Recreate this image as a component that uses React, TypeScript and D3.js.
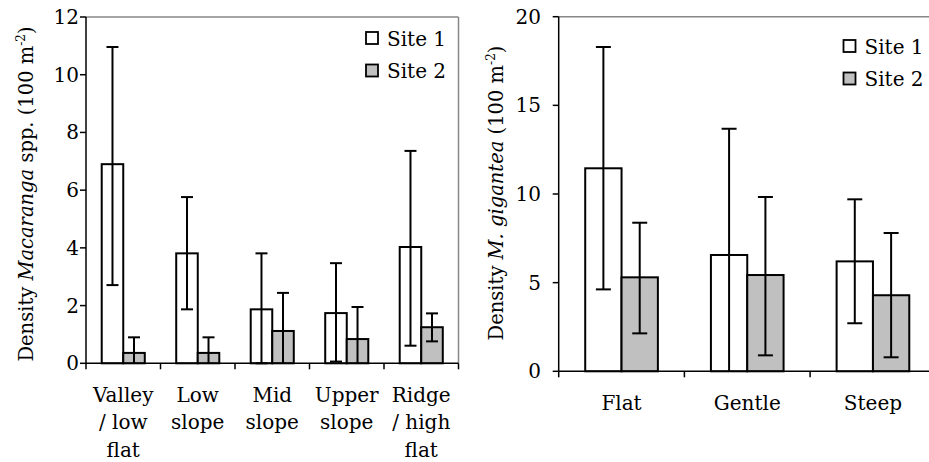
import React from 'react';
import * as d3 from 'd3';

// Series shared by both panels
const seriesNames = ['Site 1', 'Site 2'];

// Panel A: Macaranga spp. by topographic position
const positionLabels = [['Valley', '/ low', 'flat'], ['Low', 'slope'], ['Mid', 'slope'], ['Upper', 'slope'], ['Ridge', '/ high', 'flat']];
const positionSite1 = [6.9, 3.81, 1.87, 1.74, 4.03];
const positionSite1Low = [2.71, 1.87, 0.0, 0.06, 0.61];
const positionSite1High = [10.96, 5.76, 3.81, 3.47, 7.36];
const positionSite2 = [0.36, 0.36, 1.12, 0.84, 1.25];
const positionSite2Low = [-0.2, -0.2, -0.24, -0.29, 0.76];
const positionSite2High = [0.9, 0.9, 2.44, 1.95, 1.73];
const positionTicks = [0, 2, 4, 6, 8, 10, 12];

// Panel B: M. gigantea by slope class
const slopeLabels = [['Flat'], ['Gentle'], ['Steep']];
const slopeSite1 = [11.45, 6.56, 6.2];
const slopeSite1Low = [4.62, -0.56, 2.71];
const slopeSite1High = [18.29, 13.68, 9.7];
const slopeSite2 = [5.3, 5.43, 4.29];
const slopeSite2Low = [2.14, 0.9, 0.79];
const slopeSite2High = [8.38, 9.83, 7.8];
const slopeTicks = [0, 5, 10, 15, 20];

const FONT = "'DejaVu Serif', 'Liberation Serif', serif";
const FILLS = ['#ffffff', '#c0c0c0'];

type Cfg = {
  left: number; right: number; top: number; bottom: number; yMax: number;
  ticks: number[]; labels: string[][];
  means: number[][]; lows: number[][]; highs: number[][];
  capW: number; tickLabelX: number; xLabelY: number; lineH: number;
  legendX: number; legendY: number; legendGap: number;
  titleX: number; titleY: number; italic: string; before: string; after: string;
  borderRight: boolean;
};

function Panel({ c }: { c: Cfg }) {
  const cats = c.labels.map((_, i) => String(i));
  const x0 = d3.scaleBand().domain(cats).range([c.left, c.right]).paddingInner(0).paddingOuter(0);
  const x1 = d3.scaleBand().domain(seriesNames).range([0, x0.bandwidth()]).paddingInner(0).paddingOuter(0.73);
  const y = d3.scaleLinear().domain([0, c.yMax]).range([c.bottom, c.top]);
  const boundaries = d3.range(cats.length + 1).map(i => c.left + i * x0.step());
  const sw = 2;
  return (
    <g style={{ fontFamily: FONT, fontSize: '20px' }} fill="#000">
      {/* plot frame */}
      <line x1={c.left} x2={c.right} y1={c.top} y2={c.top} stroke="#878787" strokeWidth={1.5} />
      {c.borderRight && <line x1={c.right} x2={c.right} y1={c.top} y2={c.bottom} stroke="#878787" strokeWidth={1.5} />}
      {/* bars */}
      {cats.map((cat, i) => seriesNames.map((s, j) => {
        const bx = (x0(cat) as number) + (x1(s) as number);
        const v = c.means[j][i];
        return <rect key={cat + s} x={bx} y={y(v)} width={x1.bandwidth()} height={y(0) - y(v)}
          fill={FILLS[j]} stroke="#000" strokeWidth={sw} />;
      }))}
      {/* error bars */}
      {cats.map((cat, i) => seriesNames.map((s, j) => {
        const cx = (x0(cat) as number) + (x1(s) as number) + x1.bandwidth() / 2;
        const hi = c.highs[j][i];
        const lo = c.lows[j][i];
        const yl = y(Math.max(lo, 0));
        return (
          <g key={'e' + cat + s} stroke="#000" strokeWidth={sw}>
            <line x1={cx} x2={cx} y1={y(hi)} y2={yl} />
            <line x1={cx - c.capW / 2} x2={cx + c.capW / 2} y1={y(hi)} y2={y(hi)} />
            {lo >= 0 && <line x1={cx - c.capW / 2} x2={cx + c.capW / 2} y1={yl} y2={yl} />}
          </g>
        );
      }))}
      {/* axes */}
      <line x1={c.left} x2={c.left} y1={c.top} y2={c.bottom} stroke="#000" strokeWidth={1.5} />
      <line x1={c.left} x2={c.right} y1={c.bottom} y2={c.bottom} stroke="#000" strokeWidth={1.5} />
      {c.ticks.map(t => (
        <g key={'y' + t}>
          <line x1={c.left - 6} x2={c.left} y1={y(t)} y2={y(t)} stroke="#000" strokeWidth={1.5} />
          <text x={c.tickLabelX} y={y(t) + 7} textAnchor="end">{t}</text>
        </g>
      ))}
      {boundaries.map((bx, i) => (
        <line key={'xt' + i} x1={bx} x2={bx} y1={c.bottom} y2={c.bottom + 6} stroke="#000" strokeWidth={1.5} />
      ))}
      {c.labels.map((lines, i) => (
        <text key={'xl' + i} x={(x0(String(i)) as number) + x0.bandwidth() / 2} y={c.xLabelY} textAnchor="middle">
          {lines.map((ln, k) => <tspan key={k} x={(x0(String(i)) as number) + x0.bandwidth() / 2} y={c.xLabelY + k * c.lineH}>{ln}</tspan>)}
        </text>
      ))}
      {/* legend */}
      {seriesNames.map((s, j) => (
        <g key={'lg' + s}>
          <rect x={c.legendX} y={c.legendY + j * c.legendGap} width={12} height={12} fill={FILLS[j]} stroke="#000" strokeWidth={1.8} />
          <text x={c.legendX + 21} y={c.legendY + j * c.legendGap + 13.5}>{s}</text>
        </g>
      ))}
      {/* y title */}
      <text transform={`translate(${c.titleX},${c.titleY}) rotate(-90)`} textAnchor="middle" style={{ fontSize: '19.5px' }}>
        <tspan>{c.before}</tspan>
        <tspan fontStyle="italic">{c.italic}</tspan>
        <tspan>{c.after}</tspan>
        <tspan style={{ fontSize: '12px' }} dy={-8}>-2</tspan>
        <tspan dy={8}>)</tspan>
      </text>
    </g>
  );
}

export default function App() {
  const left: Cfg = {
    left: 86, right: 458.5, top: 17, bottom: 363.3, yMax: 12,
    ticks: positionTicks, labels: positionLabels,
    means: [positionSite1, positionSite2], lows: [positionSite1Low, positionSite2Low], highs: [positionSite1High, positionSite2High],
    capW: 12, tickLabelX: 79, xLabelY: 401.5, lineH: 27.8,
    legendX: 366, legendY: 32, legendGap: 32.5,
    titleX: 32.5, titleY: 194, before: 'Density ', italic: 'Macaranga', after: ' spp. (100 m',
    borderRight: true,
  };
  const right: Cfg = {
    left: 558.7, right: 935.8, top: 16.7, bottom: 371.3, yMax: 20,
    ticks: slopeTicks, labels: slopeLabels,
    means: [slopeSite1, slopeSite2], lows: [slopeSite1Low, slopeSite2Low], highs: [slopeSite1High, slopeSite2High],
    capW: 15, tickLabelX: 541, xLabelY: 410, lineH: 27.8,
    legendX: 843.5, legendY: 40, legendGap: 32.5,
    titleX: 502.5, titleY: 193, before: 'Density ', italic: 'M. gigantea', after: ' (100 m',
    borderRight: false,
  };
  return (
    <svg width={929} height={462} style={{ position: 'absolute', left: 0, top: 0, background: '#fff' }}>
      <rect width={929} height={462} fill="#fff" />
      <Panel c={left} />
      <Panel c={right} />
    </svg>
  );
}
